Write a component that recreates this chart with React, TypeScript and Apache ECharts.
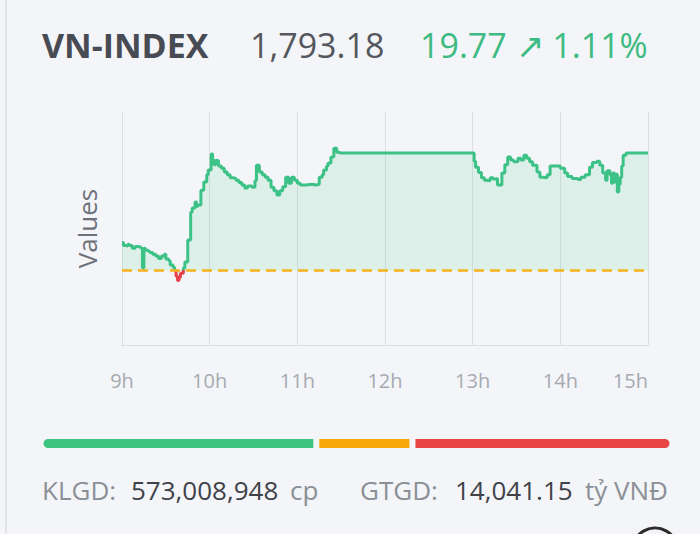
import React, { useEffect, useRef } from "react";
import * as echarts from "echarts";

// ---- data ----
const indexName = "VN-INDEX";
const closeValue = "1,793.18";
const changeText = "19.77 ↗ 1.11%";
const referencePrice = 1773.41;

const times: string[] = [
  "09:00","09:01","09:02","09:04","09:05","09:07","09:09","09:11","09:13","09:14",
  "09:15","09:16","09:18","09:19","09:21","09:23","09:25","09:27","09:29","09:30",
  "09:32","09:33","09:35","09:36","09:37","09:38","09:39","09:40","09:42","09:43",
  "09:45","09:47","09:48","09:50","09:51","09:52","09:54","09:56","09:58","09:59",
  "10:01","10:02","10:03","10:04","10:06","10:08","10:10","10:12","10:14","10:16",
  "10:18","10:20","10:22","10:24","10:26","10:29","10:31","10:32","10:34","10:36",
  "10:38","10:40","10:42","10:44","10:46","10:48","10:50","10:52","10:54","10:56",
  "10:58","11:00","11:02","11:06","11:10","11:13","11:15","11:17","11:18","11:20",
  "11:21","11:23","11:25","11:27","11:28","11:30","13:00","13:01","13:02","13:04",
  "13:06","13:08","13:10","13:12","13:14","13:16","13:17","13:20","13:22","13:24",
  "13:26","13:28","13:31","13:33","13:35","13:37","13:39","13:41","13:44","13:46",
  "13:48","13:51","13:53","13:56","14:00","14:03","14:05","14:08","14:12","14:14",
  "14:17","14:20","14:22","14:25","14:27","14:29","14:31","14:32","14:34","14:35",
  "14:36","14:37","14:38","14:39","14:40","14:41","14:42","14:43","14:45","15:00"
];
const values: number[] = [
  1778.1,1777.6,1777.5,1777.8,1777.6,1777.1,1777.4,1777.3,1777.1,1773.8,
  1777.1,1776.8,1776.6,1776.4,1776.1,1775.8,1775.4,1775.8,1776.1,1775.3,
  1775.0,1774.3,1773.9,1773.4,1772.4,1771.7,1772.2,1772.9,1773.8,1774.8,
  1778.5,1783.2,1783.9,1784.9,1784.2,1784.4,1786.9,1788.3,1789.5,1790.3,
  1793.0,1792.0,1791.2,1791.9,1791.0,1790.6,1790.0,1789.5,1789.0,1788.9,
  1788.6,1788.2,1787.8,1787.3,1787.6,1787.4,1788.5,1791.1,1790.0,1789.5,
  1789.1,1788.6,1787.4,1786.8,1786.1,1786.8,1787.5,1789.1,1788.1,1789.1,
  1788.6,1788.1,1787.8,1787.9,1787.8,1787.9,1789.1,1789.5,1790.3,1791.0,
  1791.5,1792.5,1794.0,1793.3,1793.2,1793.2,1793.2,1791.8,1790.8,1789.9,
  1789.0,1788.6,1788.5,1789.0,1788.8,1788.9,1787.8,1789.8,1791.2,1792.5,
  1792.0,1791.7,1792.3,1792.0,1792.8,1792.3,1791.7,1791.1,1790.0,1789.1,
  1789.0,1789.5,1791.0,1791.0,1790.6,1789.8,1789.2,1788.9,1788.7,1789.1,
  1789.5,1790.8,1791.6,1791.8,1791.1,1789.8,1788.6,1790.2,1789.5,1788.1,
  1789.8,1788.3,1789.6,1786.6,1787.9,1789.1,1791.0,1792.8,1793.2,1793.18
];
const hourTicks: string[] = ["9h", "10h", "11h", "12h", "13h", "14h", "15h"];

const breadthLabels: string[] = ["Tăng", "Đứng giá", "Giảm"];
const breadthCounts: number[] = [175, 61, 165];

const volumeLabel = "KLGD:";
const volumeValue = "573,008,948";
const volumeUnit = "cp";
const turnoverLabel = "GTGD:";
const turnoverValue = "14,041.15";
const turnoverUnit = "tỷ VNĐ";

// ---- styles ----
const BG = "#f4f5f8";
const GREEN = "#3cc286";
const RED = "#e8434a";
const ORANGE = "#f6b21c";
const FONT = "'Open Sans', 'Noto Sans', sans-serif";

const toMinutes = (t: string) => {
  const [h, m] = t.split(":").map(Number);
  return (h - 9) * 60 + m;
};

export default function App() {
  const ref = useRef<HTMLDivElement>(null);

  useEffect(() => {
    if (!ref.current) return;
    const chart = echarts.init(ref.current, null, { renderer: "svg" });
    const lineData = times.map((t, i) => [toMinutes(t), values[i]]);
    const total = breadthCounts.reduce((a, b) => a + b, 0);
    const barColors = ["#3dc47e", "#f7a90a", "#ea4545"];

    // gradient split at the reference price, relative to the line's own extent
    const vMax = Math.max(...values);
    const vMin = Math.min(...values);
    const split = Math.min(1, Math.max(0, (vMax - referencePrice) / (vMax - vMin)));
    const lineColor = new echarts.graphic.LinearGradient(0, 0, 0, 1, [
      { offset: 0, color: GREEN },
      { offset: split, color: GREEN },
      { offset: split, color: RED },
      { offset: 1, color: RED },
    ]);

    const grayText = "#8b8f96";
    const darkText = "#3f4249";
    const bottomFont = `400 26px ${FONT}`;

    chart.setOption({
      animation: false,
      backgroundColor: BG,
      grid: [
        { left: 122, right: 52, top: 112, height: 233 },
        { left: 40.5, right: 27.5, top: 436, height: 15 },
      ],
      xAxis: [
        {
          type: "value",
          gridIndex: 0,
          min: 0,
          max: 360,
          interval: 60,
          axisLine: { show: true, lineStyle: { color: "#dcdee3", width: 1 } },
          axisTick: { show: false },
          splitLine: { show: true, lineStyle: { color: "#dcdee3", width: 1 } },
          axisLabel: {
            color: "#a6aab1",
            fontSize: 20,
            fontFamily: FONT,
            margin: 25,
            alignMaxLabel: "right",
            formatter: (v: number) => hourTicks[Math.round(v / 60)] ?? "",
          },
        },
        {
          type: "value",
          gridIndex: 1,
          min: 0,
          max: total,
          show: false,
        },
      ],
      yAxis: [
        {
          type: "value",
          gridIndex: 0,
          min: 1760.8,
          max: 1800.1,
          axisLine: { show: false },
          axisTick: { show: false },
          axisLabel: { show: false },
          splitLine: { show: false },
          name: "Values",
          nameLocation: "middle",
          nameGap: 22,
          nameTextStyle: { color: "#6d7179", fontSize: 26, fontFamily: FONT },
        },
        {
          type: "category",
          gridIndex: 1,
          data: [""],
          show: false,
        },
      ],
      series: [
        {
          type: "line",
          xAxisIndex: 0,
          yAxisIndex: 0,
          data: lineData,
          step: "end",
          showSymbol: false,
          symbol: "none",
          lineStyle: { width: 3, color: lineColor },
          itemStyle: { color: GREEN },
          areaStyle: { color: "rgba(60,194,134,0.12)", opacity: 1, origin: referencePrice },
          markLine: {
            silent: true,
            symbol: "none",
            label: { show: false },
            lineStyle: { color: ORANGE, type: [10, 6], width: 2.5 },
            data: [{ yAxis: referencePrice }],
          },
          z: 3,
        },
        ...breadthCounts.map((c, i) => ({
          type: "bar",
          name: breadthLabels[i],
          xAxisIndex: 1,
          yAxisIndex: 1,
          stack: "breadth",
          barWidth: 15,
          data: [c],
          itemStyle: {
            color: barColors[i],
            borderColor: BG,
            borderWidth: 3,
            borderRadius: i === 0 ? [7, 0, 0, 7] : i === breadthCounts.length - 1 ? [0, 7, 7, 0] : 0,
          },
        })),
      ],
      graphic: [
        { type: "rect", shape: { x: 5, y: 0, width: 2, height: 534 }, style: { fill: "#e3e4e8" } },
        {
          type: "text", x: 42, y: 45,
          style: { text: indexName, fill: "#484b53", font: `700 34px ${FONT}`, verticalAlign: "middle" },
        },
        {
          type: "text", x: 250, y: 45,
          style: { text: closeValue, fill: "#54575e", font: `400 34px ${FONT}`, verticalAlign: "middle" },
        },
        {
          type: "text", x: 420, y: 45,
          style: { text: changeText, fill: "#3dbb83", font: `400 34px ${FONT}`, verticalAlign: "middle" },
        },
        { type: "text", x: 42, y: 490, style: { text: volumeLabel, fill: grayText, font: bottomFont, verticalAlign: "middle" } },
        { type: "text", x: 131, y: 490, style: { text: volumeValue, fill: darkText, font: bottomFont, verticalAlign: "middle" } },
        { type: "text", x: 290, y: 490, style: { text: volumeUnit, fill: grayText, font: bottomFont, verticalAlign: "middle" } },
        { type: "text", x: 360, y: 490, style: { text: turnoverLabel, fill: grayText, font: bottomFont, verticalAlign: "middle" } },
        { type: "text", x: 455, y: 490, style: { text: turnoverValue, fill: darkText, font: bottomFont, verticalAlign: "middle" } },
        { type: "text", x: 585, y: 490, style: { text: turnoverUnit, fill: grayText, font: bottomFont, verticalAlign: "middle" } },
        {
          type: "circle",
          shape: { cx: 655, cy: 551, r: 23 },
          style: { fill: BG, stroke: "#2b2b2b", lineWidth: 3 },
        },
      ],
    });
    return () => chart.dispose();
  }, []);

  return (
    <div style={{ position: "fixed", left: 0, top: 0, width: 700, height: 534, background: BG }}>
      <div ref={ref} style={{ width: 700, height: 534 }} />
    </div>
  );
}
